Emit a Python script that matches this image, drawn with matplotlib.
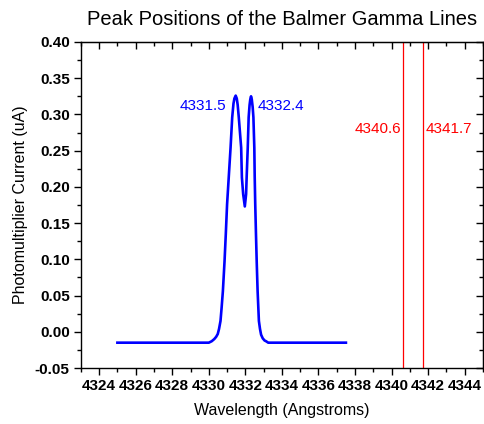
import matplotlib
matplotlib.use("Agg")
import matplotlib.pyplot as plt
from matplotlib.ticker import MultipleLocator, FormatStrFormatter

plt.rcParams['font.family'] = ['Liberation Sans', 'DejaVu Sans']

# Spectrum
wavelength = [4325.0, 4330.0, 4330.16, 4330.3, 4330.4, 4330.49, 4330.56, 4330.64, 4330.7,
              4330.77, 4330.86, 4330.93, 4331.0, 4331.09, 4331.19, 4331.28, 4331.35, 4331.4,
              4331.47, 4331.53, 4331.58, 4331.64, 4331.77, 4331.81, 4331.88, 4331.97,
              4332.04, 4332.07, 4332.13, 4332.18, 4332.23, 4332.27, 4332.31, 4332.35,
              4332.4, 4332.44, 4332.49, 4332.51, 4332.54, 4332.58, 4332.62, 4332.67,
              4332.74, 4332.8, 4332.86, 4332.95, 4333.05, 4333.13, 4333.25, 4337.5]
current = [-0.015, -0.015, -0.013, -0.010, -0.007, -0.003, 0.004, 0.015, 0.033,
           0.056, 0.097, 0.135, 0.176, 0.213, 0.254, 0.296, 0.315, 0.322,
           0.326, 0.322, 0.313, 0.296, 0.254, 0.213, 0.190, 0.173,
           0.190, 0.213, 0.254, 0.296, 0.313, 0.321, 0.325, 0.321,
           0.310, 0.296, 0.254, 0.215, 0.176, 0.135, 0.097, 0.056,
           0.015, 0.004, -0.004, -0.009, -0.012, -0.013, -0.015, -0.015]

peak_labels = ["4331.5", "4332.4"]
peak_label_x = [4330.97, 4332.66]
peak_label_y = [0.312, 0.312]

ref_lines = [4340.6, 4341.7]
ref_labels = ["4340.6", "4341.7"]
ref_label_y = 0.28

fig = plt.figure(figsize=(4.84, 4.24), dpi=100)
ax = fig.add_axes([0.167, 0.132, 0.831, 0.769])

ax.plot(wavelength, current, color='#0000ff', lw=1.9, solid_joinstyle='round')
for xv in ref_lines:
    ax.axvline(xv, color='#ff0000', lw=0.9)

ax.text(peak_label_x[0], peak_label_y[0], peak_labels[0], color='#0000ff', fontsize=11,
        ha='right', va='center')
ax.text(peak_label_x[1], peak_label_y[1], peak_labels[1], color='#0000ff', fontsize=11,
        ha='left', va='center')
ax.text(ref_lines[0] - 0.05, ref_label_y, ref_labels[0], color='#ff0000', fontsize=11,
        ha='right', va='center')
ax.text(ref_lines[1] + 0.15, ref_label_y, ref_labels[1], color='#ff0000', fontsize=11,
        ha='left', va='center')

ax.set_xlim(4323, 4345)
ax.set_ylim(-0.05, 0.40)
ax.xaxis.set_major_locator(MultipleLocator(2))
ax.xaxis.set_minor_locator(MultipleLocator(1))
ax.yaxis.set_major_locator(MultipleLocator(0.05))
ax.yaxis.set_minor_locator(MultipleLocator(0.025))
ax.yaxis.set_major_formatter(FormatStrFormatter('%.2f'))

ax.tick_params(which='major', direction='out', length=5, width=1, labelsize=11, pad=3)
ax.tick_params(which='minor', direction='out', length=3, width=1)
for lab in ax.get_xticklabels() + ax.get_yticklabels():
    lab.set_fontweight('bold')

# top and right axes with inward ticks
topx = ax.secondary_xaxis('top')
topx.xaxis.set_major_locator(MultipleLocator(2))
topx.xaxis.set_minor_locator(MultipleLocator(1))
topx.tick_params(which='major', direction='in', length=5, width=1, labeltop=False)
topx.tick_params(which='minor', direction='in', length=3, width=1)
righty = ax.secondary_yaxis('right')
righty.yaxis.set_major_locator(MultipleLocator(0.05))
righty.yaxis.set_minor_locator(MultipleLocator(0.025))
righty.tick_params(which='major', direction='in', length=5, width=1, labelright=False)
righty.tick_params(which='minor', direction='in', length=3, width=1)

for s in ax.spines.values():
    s.set_linewidth(1)

ax.set_xlabel('Wavelength (Angstroms)', fontsize=11.5, labelpad=7)
ax.set_ylabel('Photomultiplier Current (uA)', fontsize=11.5, labelpad=5)
fig.text(0.582, 0.955, 'Peak Positions of the Balmer Gamma Lines', fontsize=14.5,
         ha='center', va='center')

fig.savefig('out.png', dpi=100)
